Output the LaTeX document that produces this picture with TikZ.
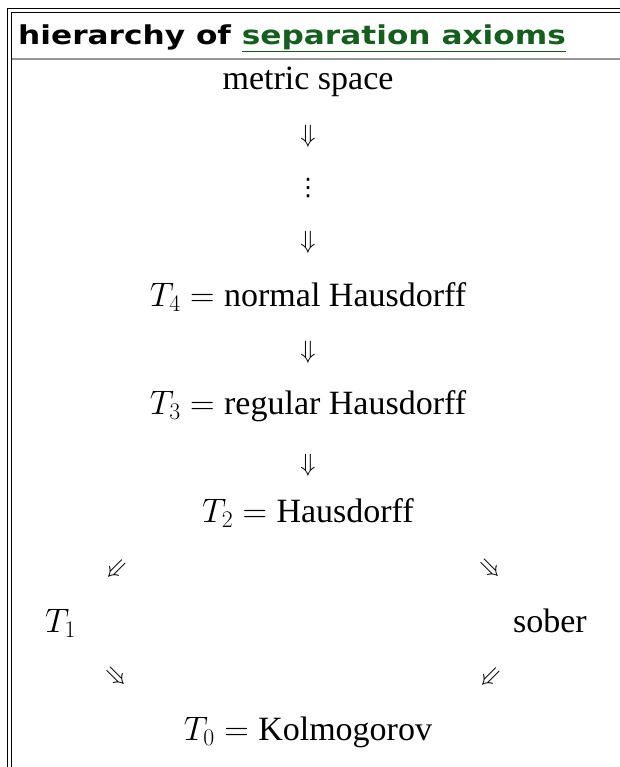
\RequirePackage{fix-cm}
\documentclass[tikz,border=0pt]{standalone}
\usepackage{fontspec}
\setmainfont{Liberation Serif}
\newfontfamily\headfont{DejaVu Sans}[FakeStretch=1.2]
\newfontfamily\dotsfont{DejaVu Sans}
\usepackage{tikz}
\definecolor{linkgreen}{RGB}{20,95,30}
\definecolor{rulegray}{RGB}{150,150,150}
\tikzset{
    rowtext/.style={anchor=base, inner sep=0pt, font=\fontsize{34}{40}\selectfont},
    implies/.style={inner sep=0pt, font=\fontsize{25}{28}\selectfont},
    frameline/.style={line width=1pt, black}
}

\begin{document}
\begin{tikzpicture}[x=1pt,y=-1pt]
    \useasboundingbox (0,0) rectangle (620,767);
    \fill[white] (0,0) rectangle (620,767);

    % double frame, open to the right and bottom
    \draw[frameline] (7.5,767) -- (7.5,8.5) -- (620,8.5);
    \draw[frameline] (11.5,767) -- (11.5,12.5) -- (620,12.5);
    \draw[rulegray, line width=2pt] (11.5,59) -- (620,59);

    \node[anchor=base west, inner sep=0pt, font=\headfont\bfseries\fontsize{26}{30}\selectfont] (title) at (18,44.5)
        {hierarchy of \textcolor{linkgreen}{\underline{separation axioms}}};

    \node[rowtext] (metric) at (308,90) {metric space};
    \node[implies] (a1) at (308,136) {$\Downarrow$};
    \node[inner sep=0pt, font=\dotsfont\fontsize{24}{28}\selectfont] (dots) at (308,188) {⋮};
    \node[implies] (a2) at (308,242) {$\Downarrow$};
    \node[rowtext] (t4) at (308,306) {$T_4 ={}$normal Hausdorff};
    \node[implies] (a3) at (308,352) {$\Downarrow$};
    \node[rowtext] (t3) at (308,414) {$T_3 ={}$regular Hausdorff};
    \node[implies] (a4) at (308,465) {$\Downarrow$};
    \node[rowtext] (t2) at (308,522) {$T_2 ={}$Hausdorff};

    \node[implies, rotate=-45] (d1) at (116,569) {$\Downarrow$};
    \node[implies, rotate=45] (d2) at (490,569) {$\Downarrow$};
    \node[rowtext, anchor=base west] (t1) at (45,632) {$T_1$};
    \node[rowtext, anchor=base east] (sober) at (587,632) {sober};
    \node[implies, rotate=45] (d3) at (116,677) {$\Downarrow$};
    \node[implies, rotate=-45] (d4) at (490,677) {$\Downarrow$};

    \node[rowtext] (t0) at (308,740) {$T_0 ={}$Kolmogorov};
\end{tikzpicture}
\end{document}
